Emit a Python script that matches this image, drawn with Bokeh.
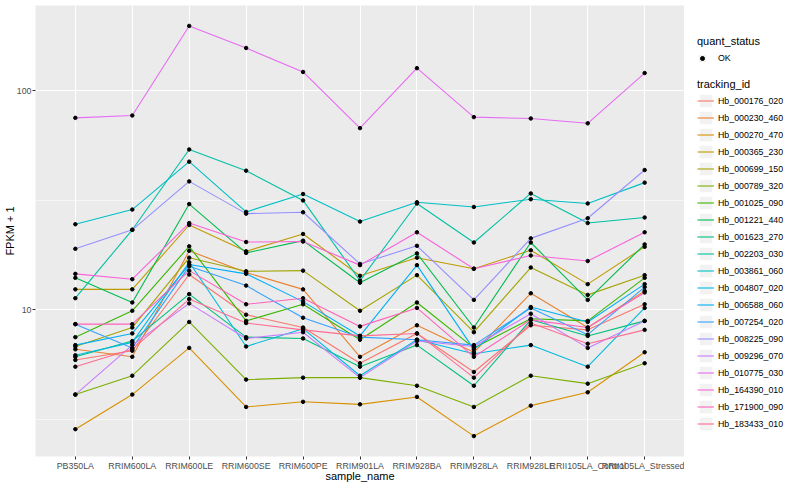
from bokeh.plotting import figure
from bokeh.layouts import row
from bokeh.models import Range1d, FixedTicker, Legend, LegendItem, BasicTickFormatter
from bokeh.embed import file_html
from bokeh.resources import INLINE

samples = ["PB350LA", "RRIM600LA", "RRIM600LE", "RRIM600SE", "RRIM600PE", "RRIM901LA",
           "RRIM928BA", "RRIM928LA", "RRIM928LE", "RRII105LA_Control", "RRII105LA_Stressed"]

tracking_ids = ["Hb_000176_020", "Hb_000230_460", "Hb_000270_470", "Hb_000365_230", "Hb_000699_150",
                "Hb_000789_320", "Hb_001025_090", "Hb_001221_440", "Hb_001623_270", "Hb_002203_030",
                "Hb_003861_060", "Hb_004807_020", "Hb_006588_060", "Hb_007254_020", "Hb_008225_090",
                "Hb_009296_070", "Hb_010775_030", "Hb_164390_010", "Hb_171900_090", "Hb_183433_010"]

# FPKM + 1 per sample
hb_000176_020 = [5.9, 6.5, 14.5, 9.5, 8.3, 5.7, 7.8, 5.2, 8.5, 8.1, 10.6]
hb_000230_460 = [6.6, 6.1, 18.6, 14.8, 12.4, 6.1, 8.5, 6.4, 11.9, 8.3, 12.2]
hb_000270_470 = [2.85, 4.1, 6.7, 3.6, 3.8, 3.7, 4.0, 2.65, 3.65, 4.2, 6.4]
hb_000365_230 = [12.4, 12.4, 24.4, 18.5, 22.2, 14.3, 17.3, 15.4, 18.7, 13.1, 19.4]
hb_000699_150 = [6.8, 8.3, 17.3, 15.0, 15.1, 9.9, 14.4, 7.9, 15.6, 11.7, 14.4]
hb_000789_320 = [4.1, 5.0, 8.8, 4.8, 4.9, 4.9, 4.5, 3.6, 5.0, 4.6, 5.7]
hb_001025_090 = [7.5, 9.9, 19.5, 8.9, 10.6, 7.3, 10.8, 6.7, 9.1, 8.9, 14.0]
hb_001221_440 = [14.0, 10.8, 30.4, 18.2, 20.7, 13.3, 18.1, 8.3, 20.3, 11.1, 19.9]
hb_001623_270 = [6.1, 7.2, 11.8, 7.5, 7.4, 5.5, 6.9, 4.5, 9.0, 7.6, 8.9]
hb_002203_030 = [11.3, 23.2, 54.0, 43.2, 31.6, 13.6, 30.6, 20.3, 34.0, 24.9, 26.4]
hb_003861_060 = [24.6, 28.7, 47.5, 28.0, 33.8, 25.3, 31.0, 29.5, 32.0, 30.6, 38.1]
hb_004807_020 = [6.2, 7.1, 16.5, 6.8, 8.2, 5.0, 7.3, 6.3, 6.9, 5.5, 10.2]
hb_006588_060 = [6.9, 7.8, 16.1, 14.6, 10.9, 7.6, 16.0, 6.6, 10.3, 8.8, 13.1]
hb_007254_020 = [8.6, 6.7, 15.8, 12.9, 9.2, 7.5, 7.3, 6.9, 10.2, 7.7, 12.7]
hb_008225_090 = [19.0, 23.2, 38.6, 27.5, 27.9, 16.2, 19.6, 11.1, 21.2, 26.2, 43.5]
hb_009296_070 = [4.1, 6.9, 10.7, 7.4, 7.9, 4.9, 7.2, 6.8, 9.6, 6.7, 8.9]
hb_010775_030 = [75.3, 77.2, 198.0, 157.0, 122.0, 67.6, 127.0, 75.9, 74.8, 71.1, 120.6]
hb_164390_010 = [14.6, 13.8, 24.9, 20.4, 20.5, 16.0, 22.6, 15.4, 17.7, 16.7, 22.6]
hb_171900_090 = [8.6, 8.6, 15.1, 10.6, 11.3, 8.4, 10.2, 6.1, 9.0, 8.3, 12.0]
hb_183433_010 = [5.5, 6.6, 11.2, 8.7, 8.1, 7.6, 7.8, 4.9, 8.7, 7.0, 8.1]

series = [hb_000176_020, hb_000230_460, hb_000270_470, hb_000365_230, hb_000699_150,
          hb_000789_320, hb_001025_090, hb_001221_440, hb_001623_270, hb_002203_030,
          hb_003861_060, hb_004807_020, hb_006588_060, hb_007254_020, hb_008225_090,
          hb_009296_070, hb_010775_030, hb_164390_010, hb_171900_090, hb_183433_010]

palette = ["#F8766D", "#EA8331", "#D89000", "#C09B00", "#A3A500", "#7CAE00", "#39B600",
           "#00BB4E", "#00BF7D", "#00C1A3", "#00BFC4", "#00BAE0", "#00B0F6", "#35A2FF",
           "#9590FF", "#C77CFF", "#E76BF3", "#FA62DB", "#FF62BC", "#FF6C91"]

FONT = "Liberation Sans"

p = figure(width=684, height=484, x_range=samples, y_axis_type="log",
           y_range=Range1d(10 ** 0.33, 10 ** 2.39),
           output_backend="svg", toolbar_location=None,
           min_border_left=0, min_border_top=5, min_border_bottom=0, min_border_right=0)
p.x_range.range_padding = 0.2
p.x_range.range_padding_units = "absolute"
p.background_fill_color = "#EBEBEB"
p.border_fill_color = "white"
p.outline_line_color = None

yt = FixedTicker(ticks=[10, 100], minor_ticks=[10 ** 0.5, 10 ** 1.5])
p.yaxis.ticker = yt
p.ygrid.ticker = yt
p.yaxis.formatter = BasicTickFormatter(use_scientific=False)

p.xgrid.grid_line_color = "white"
p.xgrid.grid_line_width = 1.1
p.ygrid.grid_line_color = "white"
p.ygrid.grid_line_width = 1.1
p.ygrid.minor_grid_line_color = "white"
p.ygrid.minor_grid_line_width = 0.55

for ax in (p.xaxis[0], p.yaxis[0]):
    ax.axis_line_color = None
    ax.major_tick_in = 0
    ax.major_tick_out = 3
    ax.major_tick_line_color = "#333333"
    ax.minor_tick_in = 0
    ax.minor_tick_out = 0
    ax.major_label_text_font = FONT
    ax.major_label_text_font_size = "8.8px"
    ax.major_label_text_color = "#4D4D4D"
    ax.major_label_standoff = 1
    ax.axis_label_text_font = FONT
    ax.axis_label_text_font_size = "11px"
    ax.axis_label_text_font_style = "normal"
    ax.axis_label_text_color = "black"
    ax.axis_label_standoff = 0

p.xaxis.axis_label_standoff = -4
p.yaxis.axis_label_standoff = -2
p.xaxis.axis_label = "sample_name"
p.yaxis.axis_label = "FPKM + 1"

for vals, col in zip(series, palette):
    p.line(samples, vals, line_color=col, line_width=1.1)

for vals in series:
    p.scatter(samples, vals, size=3.5, color="black")

# legend panel (separate figure so the legend is not clipped by the plot frame)
lf = figure(width=100, height=484, x_range=Range1d(0, 1), y_range=Range1d(0, 1),
            output_backend="svg", toolbar_location=None,
            min_border_left=0, min_border_top=0, min_border_bottom=0, min_border_right=0)
lf.axis.visible = False
lf.grid.visible = False
lf.outline_line_color = None
lf.background_fill_color = "white"

# off-screen stand-in renderers that only feed the legend glyphs
off = [-10]
bg = lf.quad(left=off, right=off, top=off, bottom=off, fill_color="#F2F2F2", line_color="white", line_width=1)
dot = lf.scatter(x=off, y=off, size=3.5, color="black")
items = []
for tid, col in zip(tracking_ids, palette):
    r = lf.line(x=off, y=off, line_color=col, line_width=1.1)
    items.append(LegendItem(label=tid, renderers=[bg, r]))


def style(leg, glyph=17, standoff=4):
    leg.title_text_font = FONT
    leg.title_text_font_size = "11px"
    leg.title_text_font_style = "normal"
    leg.title_text_color = "black"
    leg.title_standoff = 2
    leg.label_text_font = FONT
    leg.label_text_font_size = "8.8px"
    leg.label_text_color = "black"
    leg.glyph_width = glyph
    leg.glyph_height = glyph
    leg.label_height = 17
    leg.label_standoff = standoff
    leg.spacing = 0
    leg.padding = 0
    leg.margin = 0
    leg.border_line_color = None
    leg.background_fill_alpha = 0


leg1 = Legend(items=[LegendItem(label="OK", renderers=[bg, dot])], title="quant_status", location=(13, 390))
style(leg1, glyph=10, standoff=11)
leg2 = Legend(items=items, title="tracking_id", location=(13, 24))
style(leg2)
lf.add_layout(leg1)
lf.add_layout(leg2)

layout = row(p, lf, spacing=0)
open("out.html", "w").write(file_html(layout, INLINE))
